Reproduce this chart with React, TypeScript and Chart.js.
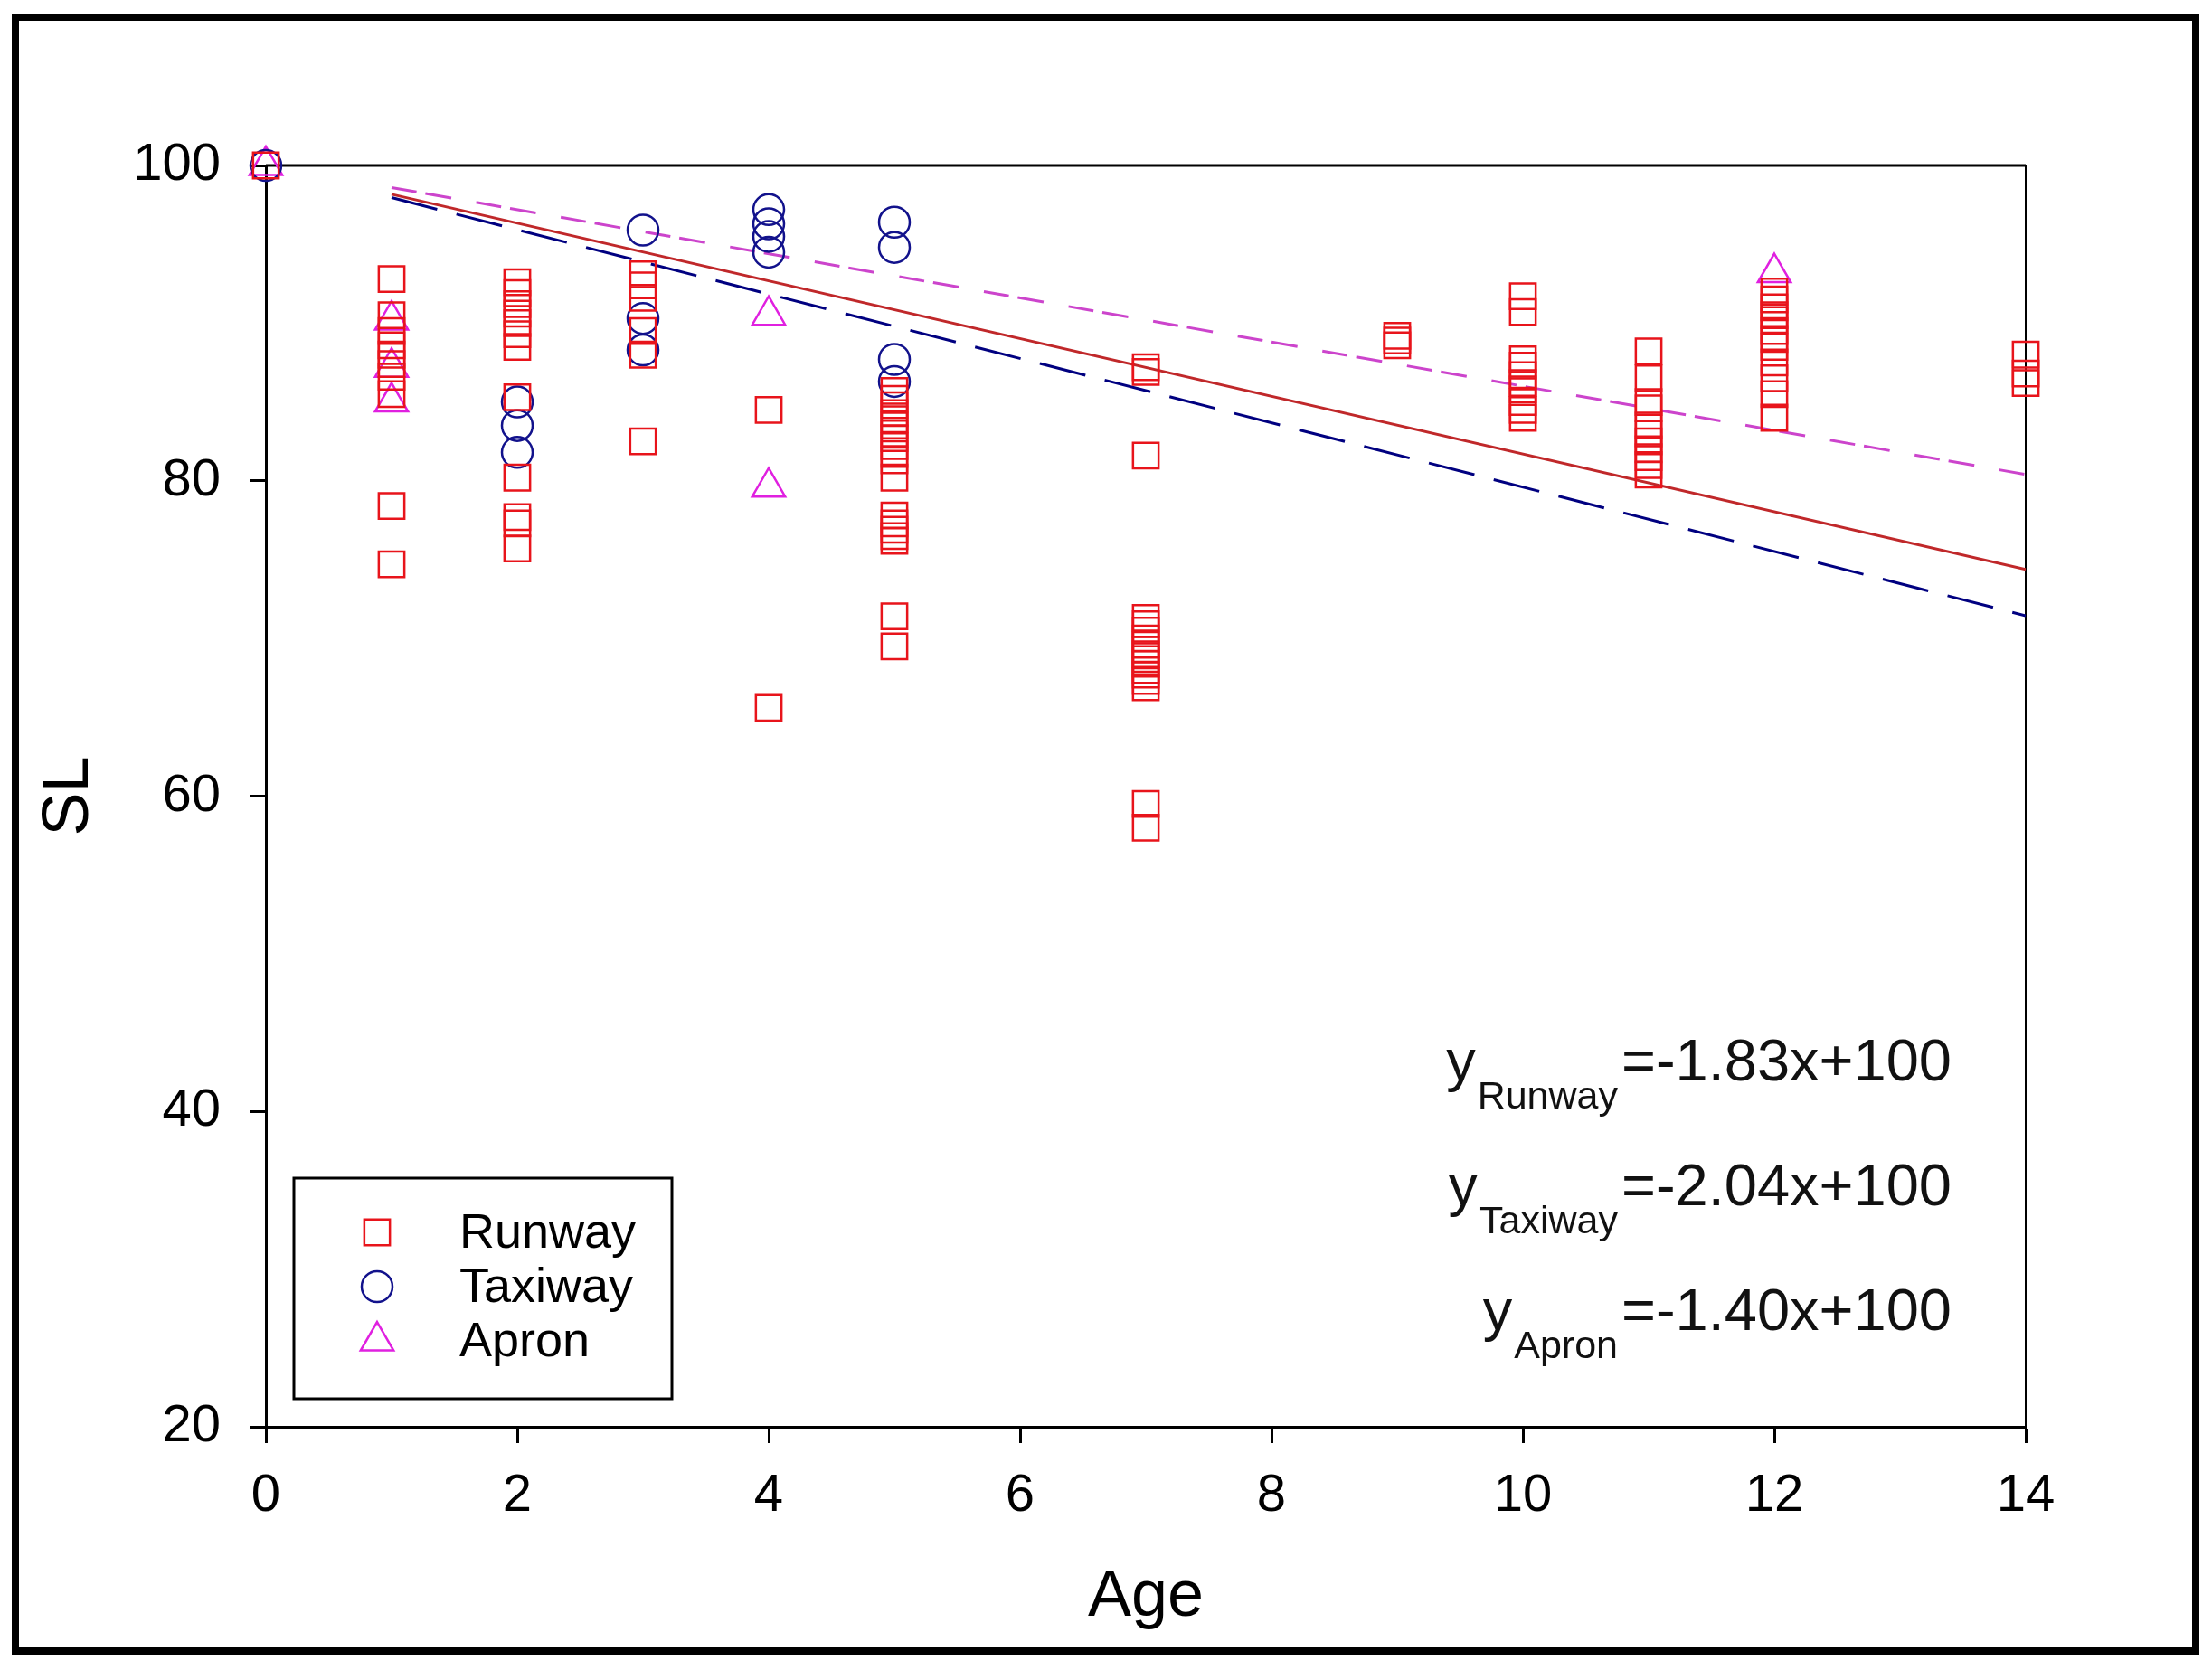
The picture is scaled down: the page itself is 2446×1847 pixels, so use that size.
import React, { useEffect, useRef } from 'react';
import { Chart, registerables } from 'chart.js';

Chart.register(...registerables);

const FONT = 'Arial, "Liberation Sans", sans-serif';

// axis ticks
const ageTicks = [0, 2, 4, 6, 8, 10, 12, 14];
const slTicks = [20, 40, 60, 80, 100];

// Runway (squares), grouped by age
const runwayAges = [0, 1, 2, 3, 4, 5, 7, 9, 10, 11, 12, 14];
const runwaySL = [
  [100],
  [92.8, 90.5, 89.5, 88.6, 88.0, 87.4, 86.6, 85.5, 78.4, 74.7],
  [92.6, 91.9, 91.2, 90.6, 90.0, 89.3, 88.5, 85.3, 80.2, 77.7, 77.3, 75.7],
  [93.1, 92.4, 91.6, 89.5, 88.0, 82.5],
  [84.5, 65.6],
  [85.7, 85.2, 84.8, 84.3, 83.9, 83.5, 83.0, 82.7, 82.2, 81.7, 81.3, 80.2, 77.8, 77.3, 76.9, 76.5, 76.2, 71.4, 69.5],
  [87.2, 86.9, 81.6, 71.3, 70.9, 70.5, 70.0, 69.6, 69.3, 69.0, 68.7, 68.4, 68.0, 67.7, 67.3, 66.9, 59.5, 58.0],
  [89.2, 88.9, 88.6],
  [91.7, 90.7, 87.7, 87.3, 86.7, 86.2, 85.8, 85.0, 84.5, 84.0],
  [88.2, 86.5, 85.0, 84.6, 83.5, 83.0, 82.5, 82.0, 81.5, 81.0, 80.4],
  [92.0, 91.5, 91.0, 90.5, 90.2, 89.5, 89.0, 88.5, 87.5, 86.5, 85.5, 84.0],
  [88.0, 86.8, 86.2],
];

// Taxiway (circles)
const taxiwayAges = [0, 2, 3, 4, 5];
const taxiwaySL = [
  [100],
  [85.0, 83.5, 81.8],
  [95.9, 90.3, 88.3],
  [97.2, 96.3, 95.5, 94.5],
  [96.4, 94.8, 87.7, 86.3],
];

// Apron (triangles)
const apronAges = [0, 1, 4, 12];
const apronSL = [
  [100],
  [90.2, 87.2, 85.0],
  [90.5, 79.6],
  [93.2],
];

// fitted lines, read at both ends
const fitAges = [1, 14];
const runwayFitSL = [98.17, 74.38];
const taxiwayFitSL = [97.96, 71.44];
const apronFitSL = [98.6, 80.4];

const equationNames = ['Runway', 'Taxiway', 'Apron'];
const equationTexts = ['=-1.83x+100', '=-2.04x+100', '=-1.40x+100'];

const toPoints = (ages: number[], groups: number[][]) =>
  ages.flatMap((a, i) => groups[i].map((v) => ({ x: a, y: v })));

const toLine = (ages: number[], vals: number[]) => ages.map((a, i) => ({ x: a, y: vals[i] }));

const drawMarker = (ctx, style, x, y, r) => {
  ctx.beginPath();
  if (style === 'rect') {
    const s = r * Math.SQRT1_2;
    ctx.rect(x - s, y - s, 2 * s, 2 * s);
  } else if (style === 'circle') {
    ctx.arc(x, y, r, 0, Math.PI * 2);
  } else {
    ctx.moveTo(x, y - r);
    ctx.lineTo(x + r * 0.866, y + r / 2);
    ctx.lineTo(x - r * 0.866, y + r / 2);
    ctx.closePath();
  }
  ctx.stroke();
};

const framePlugin = {
  id: 'plotFrame',
  beforeDatasetsDraw(chart) {
    const { ctx, chartArea: a } = chart;
    ctx.save();
    ctx.strokeStyle = '#000';
    ctx.lineWidth = 3;
    ctx.beginPath();
    ctx.moveTo(a.left, a.top);
    ctx.lineTo(a.right, a.top);
    ctx.stroke();
    ctx.lineWidth = 2;
    ctx.beginPath();
    ctx.moveTo(a.right, a.top);
    ctx.lineTo(a.right, a.bottom);
    ctx.stroke();
    ctx.restore();
  },
};

const legendPlugin = {
  id: 'boxLegend',
  afterDraw(chart) {
    const { ctx } = chart;
    const items = chart.data.datasets.filter((d) => d.inLegend);
    ctx.save();
    ctx.fillStyle = '#fff';
    ctx.fillRect(325, 1303, 418, 244);
    ctx.strokeStyle = '#000';
    ctx.lineWidth = 3;
    ctx.strokeRect(325, 1303, 418, 244);
    items.forEach((d, i) => {
      const y = 1363 + i * 60;
      ctx.strokeStyle = d.borderColor;
      ctx.lineWidth = 2.5;
      drawMarker(ctx, d.pointStyle, 417, y, d.pointRadius);
      ctx.fillStyle = '#000';
      ctx.font = `54px ${FONT}`;
      ctx.textAlign = 'left';
      ctx.textBaseline = 'middle';
      ctx.fillText(d.label, 508, y + 2);
    });
    ctx.restore();
  },
};

const equationPlugin = {
  id: 'equations',
  afterDraw(chart) {
    const { ctx } = chart;
    ctx.save();
    ctx.fillStyle = '#111';
    ctx.textBaseline = 'alphabetic';
    equationNames.forEach((name, i) => {
      const base = 1195 + i * 138;
      ctx.font = `65px ${FONT}`;
      ctx.textAlign = 'left';
      ctx.fillText(equationTexts[i], 1793, base);
      ctx.font = `43px ${FONT}`;
      ctx.textAlign = 'right';
      ctx.fillText(name, 1789, base + 31);
      const w = ctx.measureText(name).width;
      ctx.font = `65px ${FONT}`;
      ctx.fillText('y', 1787 - w, base);
    });
    ctx.restore();
  },
};

const axisCommon = {
  grid: {
    display: true,
    drawOnChartArea: false,
    drawTicks: true,
    tickLength: 18,
    tickWidth: 3,
    tickColor: '#000',
  },
  border: { display: true, color: '#000', width: 3 },
};

const App = () => {
  const chartRef = useRef<HTMLCanvasElement>(null);

  useEffect(() => {
    const chart = new Chart(chartRef.current, {
      type: 'scatter',
      data: {
        datasets: [
          {
            label: 'Runway',
            inLegend: true,
            data: toPoints(runwayAges, runwaySL),
            pointStyle: 'rect',
            pointRadius: 20,
            borderColor: '#e8141b',
            pointBorderWidth: 2.5,
            backgroundColor: 'transparent',
            clip: false,
          },
          {
            label: 'Taxiway',
            inLegend: true,
            data: toPoints(taxiwayAges, taxiwaySL),
            pointStyle: 'circle',
            pointRadius: 17,
            borderColor: '#12128c',
            pointBorderWidth: 2.5,
            backgroundColor: 'transparent',
            clip: false,
          },
          {
            label: 'Apron',
            inLegend: true,
            data: toPoints(apronAges, apronSL),
            pointStyle: 'triangle',
            pointRadius: 21,
            borderColor: '#e020e0',
            pointBorderWidth: 2.5,
            backgroundColor: 'transparent',
            clip: false,
          },
          {
            label: 'Runway fit',
            data: toLine(fitAges, runwayFitSL),
            showLine: true,
            pointRadius: 0,
            borderColor: '#c0282a',
            borderWidth: 3,
          },
          {
            label: 'Taxiway fit',
            data: toLine(fitAges, taxiwayFitSL),
            showLine: true,
            pointRadius: 0,
            borderColor: '#000080',
            borderWidth: 3,
            borderDash: [52, 22],
          },
          {
            label: 'Apron fit',
            data: toLine(fitAges, apronFitSL),
            showLine: true,
            pointRadius: 0,
            borderColor: '#cc44cc',
            borderWidth: 3,
            borderDash: [28, 10, 29, 28],
          },
        ],
      },
      options: {
        animation: false,
        responsive: true,
        maintainAspectRatio: false,
        events: [],
        layout: { padding: { top: 183, right: 206, left: 0, bottom: 0 } },
        scales: {
          x: {
            ...axisCommon,
            type: 'linear',
            min: 0,
            max: 14,
            afterBuildTicks: (s) => {
              s.ticks = ageTicks.map((v) => ({ value: v }));
            },
            afterFit: (s) => {
              s.height = 269;
            },
            ticks: {
              color: '#000',
              padding: 24,
              maxRotation: 0,
              font: { family: FONT, size: 58 },
            },
            title: {
              display: true,
              text: 'Age',
              color: '#000',
              font: { family: FONT, size: 72 },
              padding: { top: 37, bottom: 37 },
            },
          },
          y: {
            ...axisCommon,
            type: 'linear',
            min: 20,
            max: 100,
            afterBuildTicks: (s) => {
              s.ticks = slTicks.map((v) => ({ value: v }));
            },
            afterFit: (s) => {
              s.width = 294;
            },
            ticks: {
              color: '#000',
              padding: 32,
              font: { family: FONT, size: 58 },
            },
            title: {
              display: true,
              text: 'SL',
              color: '#000',
              font: { family: FONT, size: 72 },
              padding: { top: 34, bottom: 34 },
            },
          },
        },
        plugins: {
          legend: { display: false },
          tooltip: { enabled: false },
        },
      },
      plugins: [framePlugin, legendPlugin, equationPlugin],
    });

    return () => chart.destroy();
  }, []);

  return (
    <div style={{ position: 'absolute', left: 0, top: 0, width: 2446, height: 1847, background: '#fff' }}>
      <div
        style={{
          position: 'absolute',
          left: 13,
          top: 15,
          width: 2419,
          height: 1815,
          boxSizing: 'border-box',
          border: '8px solid #000',
        }}
      />
      <div style={{ position: 'absolute', left: 0, top: 0, width: 2446, height: 1847 }}>
        <canvas ref={chartRef} />
      </div>
    </div>
  );
};

export default App;
